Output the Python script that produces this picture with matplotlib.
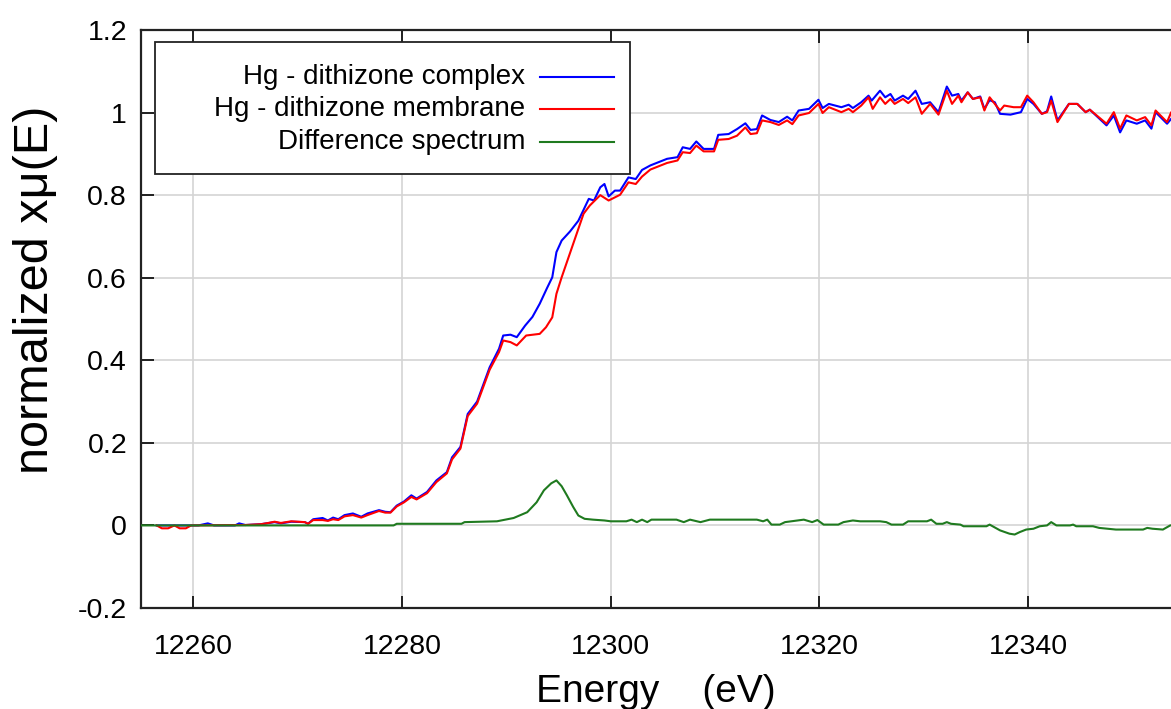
import matplotlib
matplotlib.use("Agg")
import matplotlib.pyplot as plt
from matplotlib.patches import Rectangle

plt.rcParams["font.family"] = ["Liberation Sans", "DejaVu Sans"]

# Hg L3-edge XANES
e_complex = [12256.5, 12257.4, 12259.0, 12260.5, 12261.4, 12262.0, 12264.0, 12264.4, 12265.0,
             12266.5, 12267.8, 12268.4, 12269.4, 12270.7, 12271.0, 12271.5, 12272.4, 12272.9,
             12273.4, 12273.9, 12274.5, 12275.3, 12276.1, 12276.7, 12277.8, 12278.4, 12278.9,
             12279.5, 12280.2, 12280.9, 12281.4, 12282.4, 12283.3, 12284.3, 12284.8, 12285.6,
             12286.3, 12287.2, 12288.4, 12289.3, 12289.7, 12290.4, 12291.0, 12291.8, 12292.5,
             12293.2, 12293.9, 12294.4, 12294.8, 12295.3, 12296.1, 12296.9, 12297.9, 12298.4,
             12299.0, 12299.4, 12299.8, 12300.4, 12300.9, 12301.7, 12302.4, 12303.0, 12303.8,
             12305.4, 12306.4, 12306.9, 12307.6, 12308.2, 12308.9, 12309.9, 12310.3, 12311.3,
             12312.1, 12312.9, 12313.4, 12314.0, 12314.5, 12315.3, 12316.1, 12316.9, 12317.4,
             12318.0, 12319.0, 12319.9, 12320.3, 12320.9, 12322.1, 12322.8, 12323.2, 12324.0,
             12324.7, 12325.0, 12325.8, 12326.3, 12326.8, 12327.2, 12328.0, 12328.5, 12329.2,
             12329.8, 12330.6, 12331.4, 12332.2, 12332.7, 12333.3, 12333.6, 12334.2, 12334.7,
             12335.4, 12335.8, 12336.3, 12336.8, 12337.3, 12338.3, 12339.3, 12339.9, 12340.5,
             12341.3, 12341.8, 12342.2, 12342.8, 12343.9, 12344.7, 12345.5, 12345.9, 12347.5,
             12348.2, 12348.8, 12349.4, 12350.4, 12351.2, 12351.8, 12352.2, 12353.3, 12353.7,
             12354.5]
mu_complex = [0.000, 0.000, 0.000, 0.000, 0.005, 0.000, 0.000, 0.005, 0.001,
              0.003, 0.008, 0.005, 0.009, 0.008, 0.004, 0.015, 0.018, 0.012,
              0.019, 0.015, 0.025, 0.029, 0.021, 0.029, 0.037, 0.033, 0.032,
              0.048, 0.058, 0.073, 0.065, 0.081, 0.109, 0.129, 0.165, 0.190,
              0.270, 0.300, 0.383, 0.428, 0.460, 0.462, 0.456, 0.484, 0.505,
              0.537, 0.575, 0.601, 0.662, 0.690, 0.712, 0.738, 0.791, 0.787,
              0.819, 0.827, 0.797, 0.811, 0.811, 0.843, 0.839, 0.861, 0.872,
              0.888, 0.892, 0.916, 0.912, 0.930, 0.912, 0.912, 0.946, 0.948,
              0.960, 0.974, 0.958, 0.960, 0.993, 0.982, 0.977, 0.990, 0.981,
              1.005, 1.009, 1.031, 1.011, 1.021, 1.013, 1.019, 1.011, 1.025,
              1.041, 1.029, 1.053, 1.037, 1.045, 1.029, 1.041, 1.033, 1.053,
              1.021, 1.025, 1.001, 1.063, 1.041, 1.045, 1.029, 1.049, 1.033,
              1.039, 1.009, 1.030, 1.025, 0.997, 0.995, 1.001, 1.033, 1.021,
              0.997, 1.003, 1.039, 0.981, 1.021, 1.021, 1.001, 1.007, 0.969,
              0.993, 0.952, 0.981, 0.973, 0.981, 0.961, 1.001, 0.973, 0.985,
              0.980]

e_membrane = [12256.5, 12257.0, 12257.6, 12258.2, 12258.7, 12259.3, 12259.8, 12265.0, 12266.5,
              12267.2, 12267.8, 12268.4, 12269.4, 12270.7, 12271.0, 12271.5, 12272.4, 12272.9,
              12273.4, 12273.9, 12274.5, 12275.3, 12276.1, 12276.7, 12277.8, 12278.4, 12278.9,
              12279.5, 12280.2, 12280.9, 12281.4, 12282.4, 12283.3, 12284.3, 12284.8, 12285.6,
              12286.3, 12287.2, 12288.4, 12289.3, 12289.7, 12290.4, 12291.0, 12291.9, 12293.2,
              12293.8, 12294.4, 12294.8, 12295.3, 12296.3, 12297.4, 12298.0, 12299.0, 12299.8,
              12300.9, 12301.7, 12302.4, 12303.0, 12303.8, 12305.4, 12306.4, 12306.9, 12307.6,
              12308.2, 12308.9, 12309.9, 12310.3, 12311.3, 12312.1, 12312.9, 12313.4, 12314.0,
              12314.5, 12315.3, 12316.1, 12316.9, 12317.4, 12318.0, 12319.0, 12319.9, 12320.3,
              12320.9, 12322.1, 12322.8, 12323.2, 12324.0, 12324.7, 12325.1, 12325.8, 12326.3,
              12326.8, 12327.2, 12328.0, 12328.5, 12329.2, 12329.8, 12330.6, 12331.4, 12332.2,
              12332.7, 12333.3, 12333.6, 12334.2, 12334.7, 12335.4, 12335.8, 12336.3, 12337.3,
              12337.7, 12338.6, 12339.3, 12339.9, 12340.5, 12341.3, 12341.8, 12342.2, 12342.8,
              12343.9, 12344.7, 12345.5, 12345.9, 12347.5, 12348.2, 12348.8, 12349.4, 12350.4,
              12351.2, 12351.8, 12352.2, 12353.3, 12353.7, 12354.5]
mu_membrane = [0.000, -0.007, -0.007, 0.000, -0.007, -0.007, 0.000, 0.001, 0.003,
               0.006, 0.009, 0.006, 0.010, 0.008, 0.004, 0.013, 0.013, 0.011,
               0.015, 0.013, 0.022, 0.025, 0.019, 0.025, 0.035, 0.031, 0.031,
               0.046, 0.056, 0.069, 0.063, 0.078, 0.105, 0.126, 0.160, 0.186,
               0.265, 0.295, 0.377, 0.420, 0.448, 0.444, 0.436, 0.460, 0.464,
               0.480, 0.504, 0.561, 0.601, 0.674, 0.755, 0.775, 0.800, 0.787,
               0.801, 0.831, 0.827, 0.845, 0.862, 0.878, 0.884, 0.904, 0.902,
               0.920, 0.906, 0.906, 0.934, 0.936, 0.944, 0.964, 0.948, 0.950,
               0.981, 0.977, 0.970, 0.981, 0.972, 0.993, 0.999, 1.021, 0.999,
               1.013, 1.001, 1.009, 1.001, 1.017, 1.037, 1.009, 1.037, 1.021,
               1.033, 1.021, 1.033, 1.023, 1.037, 0.997, 1.021, 0.995, 1.053,
               1.021, 1.041, 1.025, 1.049, 1.033, 1.037, 1.005, 1.037, 1.005,
               1.017, 1.013, 1.013, 1.041, 1.025, 0.997, 1.001, 1.029, 0.977,
               1.021, 1.021, 1.001, 1.007, 0.973, 1.001, 0.961, 0.993, 0.981,
               0.989, 0.969, 1.005, 0.977, 1.001, 0.990]

e_diff = [12254.0, 12279.2, 12279.5, 12285.7, 12286.0, 12289.1, 12290.7, 12292.0, 12292.9,
          12293.6, 12294.3, 12294.8, 12295.3, 12295.8, 12296.4, 12296.9, 12297.5, 12298.3,
          12299.4, 12300.0, 12301.5, 12302.0, 12302.5, 12303.0, 12303.5, 12303.9, 12306.3,
          12307.0, 12307.6, 12308.6, 12309.5, 12314.0, 12314.6, 12315.0, 12315.4, 12316.2,
          12316.7, 12318.5, 12319.3, 12319.8, 12320.4, 12321.8, 12322.3, 12323.2, 12323.9,
          12325.8, 12326.4, 12326.9, 12328.0, 12328.5, 12330.3, 12330.7, 12331.2, 12331.8,
          12332.2, 12332.6, 12333.5, 12333.8, 12336.0, 12336.3, 12337.3, 12338.2, 12338.7,
          12339.2, 12339.8, 12340.5, 12341.1, 12341.8, 12342.2, 12342.7, 12344.0, 12344.3,
          12344.6, 12346.2, 12346.8, 12348.4, 12351.0, 12351.4, 12351.9, 12352.9, 12353.6,
          12354.5]
mu_diff = [0.000, 0.000, 0.004, 0.004, 0.008, 0.010, 0.018, 0.032, 0.056,
           0.085, 0.102, 0.109, 0.095, 0.073, 0.045, 0.024, 0.016, 0.014,
           0.012, 0.010, 0.010, 0.014, 0.008, 0.014, 0.008, 0.014, 0.014,
           0.008, 0.014, 0.008, 0.014, 0.014, 0.010, 0.014, 0.002, 0.002,
           0.008, 0.014, 0.008, 0.013, 0.002, 0.002, 0.008, 0.012, 0.010,
           0.010, 0.008, 0.002, 0.002, 0.010, 0.010, 0.014, 0.004, 0.004,
           0.008, 0.004, 0.002, -0.002, -0.002, 0.002, -0.012, -0.020, -0.022,
           -0.016, -0.010, -0.008, -0.002, 0.000, 0.008, 0.000, 0.000, 0.002,
           -0.002, -0.002, -0.006, -0.010, -0.010, -0.006, -0.008, -0.010, 0.000,
           0.002]

series_labels = ["Hg - dithizone complex", "Hg - dithizone membrane", "Difference spectrum"]
series_colors = ["#0000ff", "#ff0000", "#1f7a1f"]

x_ticks = [12260, 12280, 12300, 12320, 12340]
y_ticks = [-0.2, 0, 0.2, 0.4, 0.6, 0.8, 1, 1.2]
y_tick_labels = ["-0.2", "0", "0.2", "0.4", "0.6", "0.8", "1", "1.2"]

W, H = 1171, 709
fig = plt.figure(figsize=(W / 100, H / 100), dpi=100)
# plot area runs past the right edge of the picture (cropped original)
ax = fig.add_axes([141 / W, 101 / H, 1096 / W, 578 / H])

ax.plot(e_complex, mu_complex, color=series_colors[0], lw=1.5, zorder=3)
ax.plot(e_membrane, mu_membrane, color=series_colors[1], lw=1.5, zorder=3)
ax.plot(e_diff, mu_diff, color=series_colors[2], lw=1.5, zorder=3)

ax.set_xlim(12255, 12360)
ax.set_ylim(-0.2, 1.2)
ax.set_xticks(x_ticks)
ax.set_yticks(y_ticks)
ax.set_yticklabels(y_tick_labels)
ax.grid(True, color="#d4d4d4", lw=1.2)
ax.set_axisbelow(True)

ax.tick_params(direction="in", length=9, width=1.2, labelsize=20.5, top=True, right=False)
ax.tick_params(axis="x", pad=19)
ax.tick_params(axis="y", pad=10)
for side in ["left", "bottom", "top"]:
    ax.spines[side].set_linewidth(1.6)
    ax.spines[side].set_color("#222222")
ax.spines["right"].set_visible(False)

ax.set_xlabel("Energy    (eV)", fontsize=28)
ax.set_ylabel("normalized xμ(E)", fontsize=35)
ax.xaxis.set_label_coords(0.47, -0.115)
ax.yaxis.set_label_coords(-0.076, 0.55)

# gnuplot-style key: right-aligned text followed by the line sample
ax.add_patch(Rectangle((0.0128, 0.7509), 0.4334, 0.2283, transform=ax.transAxes,
                       facecolor="white", edgecolor="#222222", lw=1.3, zorder=5))
for i, (label, color) in enumerate(zip(series_labels, series_colors)):
    yy = 0.9194 - i * 0.0563
    ax.text(0.3504, yy, label, transform=ax.transAxes, ha="right", va="center",
            fontsize=20, zorder=6)
    ax.plot([0.3641, 0.4316], [yy, yy], transform=ax.transAxes, color=color,
            lw=1.5, zorder=6)

fig.savefig("out.png", dpi=100)
